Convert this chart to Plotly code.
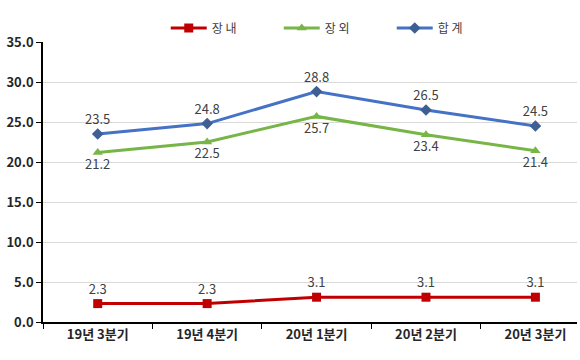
import plotly.graph_objects as go

categories = ["19년 3분기", "19년 4분기", "20년 1분기", "20년 2분기", "20년 3분기"]
jangnae = [2.3, 2.3, 3.1, 3.1, 3.1]
jangoe = [21.2, 22.5, 25.7, 23.4, 21.4]
total = [23.5, 24.8, 28.8, 26.5, 24.5]
yticks = [0, 5, 10, 15, 20, 25, 30, 35]

FONT = "Noto Sans CJK KR"

W, H = 580, 360
ML, MR, MT, MB = 43, 3, 42, 38

fig = go.Figure()
fig.add_trace(go.Scatter(
    x=categories, y=jangnae, name="장 내", mode="lines+markers+text",
    line=dict(color="#C00000", width=3),
    marker=dict(symbol="square", size=9, color="#C00000"),
    text=[f"{v:.1f}" for v in jangnae], textposition="top center",
    textfont=dict(family=FONT, size=13, color="#404040"),
))
fig.add_trace(go.Scatter(
    x=categories, y=jangoe, name="장 외", mode="lines+markers+text",
    line=dict(color="#77B547", width=3),
    marker=dict(symbol="triangle-up", size=9, color="#77B547"),
    text=[f"{v:.1f}" for v in jangoe], textposition="bottom center",
    textfont=dict(family=FONT, size=13, color="#404040"),
))
fig.add_trace(go.Scatter(
    x=categories, y=total, name="합 계", mode="lines+markers+text",
    line=dict(color="#4472C4", width=3),
    marker=dict(symbol="diamond", size=9, color="#3F5F94"),
    text=[f"{v:.1f}" for v in total], textposition="top center",
    textfont=dict(family=FONT, size=13, color="#404040"),
))

fig.update_layout(
    width=W, height=H,
    margin=dict(l=ML, r=MR, t=MT, b=MB, autoexpand=False),
    paper_bgcolor="white", plot_bgcolor="white",
    font=dict(family=FONT, size=13, color="#404040"),
    showlegend=True,
    legend=dict(orientation="h", x=0.578, xanchor="center", xref="container",
                y=1 - 28 / H, yanchor="middle", yref="container",
                font=dict(family=FONT, size=12, color="#404040"),
                itemwidth=36, entrywidth=62, entrywidthmode="pixels",
                traceorder="normal"),
    xaxis=dict(
        type="category", range=[-0.5, 4.38],
        showline=True, linecolor="black", linewidth=1.5,
        ticks="outside", tickson="boundaries", ticklen=5, tickcolor="black",
        showgrid=False, zeroline=False,
        tickfont=dict(family=FONT, size=13, color="#262626", weight="bold"),
    ),
    yaxis=dict(
        range=[0, 35], tickmode="array", tickvals=yticks,
        ticktext=[f"{v:.1f}" for v in yticks],
        showline=True, linecolor="black", linewidth=1.5,
        ticks="outside", ticklen=5, tickcolor="black",
        showgrid=True, gridcolor="#D9D9D9", gridwidth=1, zeroline=False,
        tickfont=dict(family=FONT, size=13, color="#262626", weight="bold"),
    ),
)

fig.write_html("out.html", config={"displayModeBar": False},
               post_script="document.body.style.margin='0';"
                           "document.body.style.overflow='hidden';"
                           "document.documentElement.style.overflow='hidden';")
